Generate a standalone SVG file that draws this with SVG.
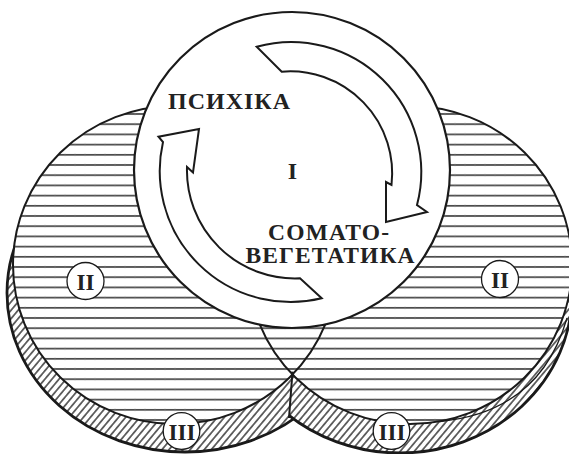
<svg xmlns="http://www.w3.org/2000/svg" width="569" height="454" viewBox="0 0 569 454">
  <defs>
    <pattern id="stripes" patternUnits="userSpaceOnUse" x="0" y="0" width="10" height="10.2">
      <rect width="10" height="10.2" fill="#fff"/>
      <line x1="0" y1="1.8" x2="10" y2="1.8" stroke="#1e1e1e" stroke-width="1.4"/>
      <line x1="5" y1="0.6" x2="5" y2="3" stroke="#777" stroke-width="0.6"/>
    </pattern>
    <pattern id="hatch" patternUnits="userSpaceOnUse" width="5.4" height="10" patternTransform="rotate(40)">
      <rect width="5.4" height="10" fill="#fff"/>
      <line x1="2.7" y1="0" x2="2.7" y2="10" stroke="#1e1e1e" stroke-width="1.3"/>
    </pattern>
    <clipPath id="rightSide">
      <polygon points="292.5,0 569,0 569,454 286,454 289,417 292.5,371.7"/>
    </clipPath>
    <style>
      .band { fill: url(#hatch); stroke: #1a1a1a; stroke-width: 2.8; }
      .face { fill: url(#stripes); stroke: none; }
      .faceline { fill: none; stroke: #1a1a1a; stroke-width: 2; }
      .thin { fill: none; stroke: #1a1a1a; stroke-width: 1.3; }
      .tag { fill: #fff; stroke: #1a1a1a; stroke-width: 1.3; }
      .lbl { font-family: "Liberation Serif", "DejaVu Serif", serif; font-weight: bold; fill: #222; }
      .arrow { fill: #fff; stroke: #1a1a1a; stroke-width: 2; stroke-linejoin: miter; }
    </style>
  </defs>

  <g id="disk-left-band">
    <ellipse class="band" cx="185" cy="293" rx="178" ry="159"/>
  </g>
  <g id="disk-right-band" clip-path="url(#rightSide)">
    <ellipse class="band" cx="400" cy="294" rx="172" ry="159"/>
    <path class="thin" d="M 440 421.5 Q 540 412 567 318"/>
  </g>

  <g id="disk-faces">
    <ellipse class="face" cx="175" cy="265" rx="162" ry="159"/>
    <ellipse class="face" cx="410" cy="265" rx="162" ry="159"/>
    <ellipse class="faceline" cx="175" cy="265" rx="162" ry="159"/>
    <ellipse class="faceline" cx="410" cy="265" rx="162" ry="159"/>
  </g>

  <g id="connectors">
    <line x1="292.5" y1="371.7" x2="289" y2="418" stroke="#1a1a1a" stroke-width="2"/>
  </g>

  <g id="label-II-left">
    <circle class="tag" cx="85.5" cy="281" r="18.5"/>
    <text class="lbl" x="85.5" y="289.5" font-size="23" text-anchor="middle">II</text>
  </g>
  <g id="label-II-right">
    <circle class="tag" cx="500" cy="279" r="18.5"/>
    <text class="lbl" x="500" y="287.5" font-size="23" text-anchor="middle">II</text>
  </g>
  <g id="label-III-left">
    <circle class="tag" cx="181.5" cy="431" r="18.3"/>
    <text class="lbl" x="182" y="440" font-size="23" text-anchor="middle">III</text>
  </g>
  <g id="label-III-right">
    <circle class="tag" cx="391.5" cy="431" r="18.3"/>
    <text class="lbl" x="392" y="440" font-size="23" text-anchor="middle">III</text>
  </g>

  <g id="node-I">
    <circle cx="292" cy="170" r="158" fill="#fff" stroke="#1a1a1a" stroke-width="2.2"/>
    <path class="arrow" d="M 256.7 46.7 A 130 130 0 0 1 417 205 L 427 212 L 386 222 L 386 182 L 391.5 185 A 102 102 0 0 0 281.7 71.7 Z"/>
    <path class="arrow" d="M 321.7 298.3 A 131 131 0 0 1 163 142 L 158.5 136.7 L 199 129 L 193 172.5 L 187 167 A 108 108 0 0 0 300 278.3 Z"/>
    <text class="lbl" x="168" y="109" font-size="24" textLength="122" lengthAdjust="spacing">ПСИХІКА</text>
    <text class="lbl" x="292.5" y="179" font-size="24" text-anchor="middle">I</text>
    <text class="lbl" x="268" y="240" font-size="23.5" textLength="121" lengthAdjust="spacing">СОМАТО-</text>
    <text class="lbl" x="245.5" y="263.3" font-size="23.5" textLength="169" lengthAdjust="spacing">ВЕГЕТАТИКА</text>
  </g>
</svg>
